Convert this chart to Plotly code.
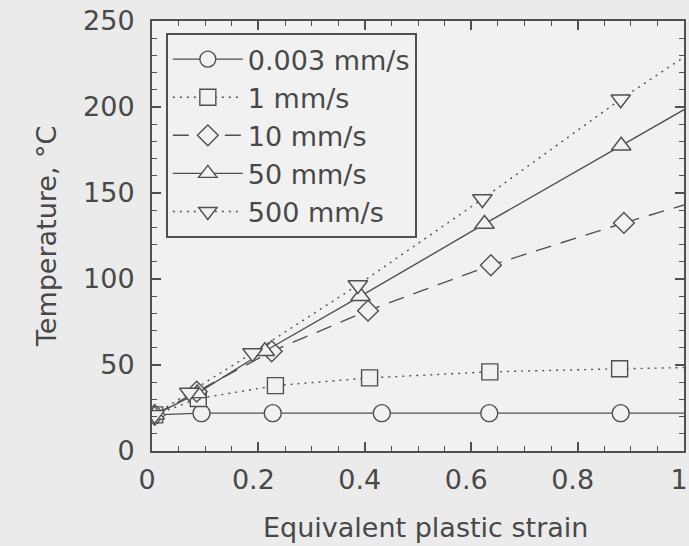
import plotly.graph_objects as go

# ---- data ----
labels = ["0.003 mm/s", "1 mm/s", "10 mm/s", "50 mm/s", "500 mm/s"]

x_0003 = [0.005, 0.093, 0.227, 0.432, 0.634, 0.881]
y_0003 = [21, 22, 22, 22, 22, 22]
x_1 = [0.005, 0.087, 0.232, 0.409, 0.635, 0.879]
y_1 = [21, 30.5, 38, 42.5, 46, 47.8]
x_10 = [0.005, 0.084, 0.225, 0.406, 0.637, 0.887]
y_10 = [21, 34.5, 58, 81.6, 108, 132.6]
x_50 = [0.005, 0.085, 0.212, 0.392, 0.625, 0.882]
y_50 = [21, 33.5, 58, 90, 132, 177.5]
x_500 = [0.005, 0.07, 0.189, 0.387, 0.621, 0.881]
y_500 = [21, 34, 57, 96.5, 146.5, 204.5]

# line continuation to the right frame (value at strain = 1)
end_x = [1.0, 1.0, 1.0, 1.0, 1.0]
end_y = [22, 48.5, 143, 198.5, 229]

x_ticks = [0, 0.2, 0.4, 0.6, 0.8, 1]
x_ticklabels = ["0", "0.2", "0.4", "0.6", "0.8", "1"]
y_ticks = [0, 50, 100, 150, 200, 250]
x_title = "Equivalent plastic strain"
y_title = "Temperature, °C"

# ---- styles ----
INK = "#505050"
TXT = "#484848"
PAPER = "#ebebeb"
PLOT = "#f1f1f1"
FONT = "DejaVu Sans"

series = [
    (x_0003, y_0003, "circle", "solid", 17),
    (x_1, y_1, "square", "2px,5px", 16),
    (x_10, y_10, "diamond", "16px,10px", 16),
    (x_50, y_50, "triangle-up", "solid", 17),
    (x_500, y_500, "triangle-down", "2px,5px", 17),
]

fig = go.Figure()
for i, (xs, ys, sym, dash, msize) in enumerate(series):
    # extension of the line to the frame (no markers)
    fig.add_trace(go.Scatter(
        x=[xs[-1], end_x[i]], y=[ys[-1], end_y[i]],
        mode="lines", line=dict(color=INK, width=1.4, dash=dash),
        showlegend=False, hoverinfo="skip", cliponaxis=True,
    ))
for i, (xs, ys, sym, dash, msize) in enumerate(series):
    fig.add_trace(go.Scatter(
        x=xs, y=ys, name=labels[i], mode="lines+markers",
        line=dict(color=INK, width=1.4, dash=dash),
        marker=dict(symbol=sym, size=msize, color=PLOT,
                    line=dict(color=INK, width=1.4)),
        cliponaxis=True,
    ))

axis_common = dict(
    showgrid=False, zeroline=False, showline=True, linecolor=INK, linewidth=2,
    mirror="ticks", ticks="inside", tickcolor=INK, tickwidth=1.5,
    tickfont=dict(family=FONT, size=27, color=TXT),
    ticklabeloverflow="allow", automargin=False,
)

fig.update_xaxes(
    range=[0, 1], tickvals=x_ticks, ticktext=x_ticklabels, ticklen=9,
    minor=dict(dtick=0.05, ticks="inside", ticklen=5, tickcolor=INK, tickwidth=1.3),
    ticklabelstandoff=4, ticklabelshift=-5,
    **axis_common,
)
fig.update_yaxes(
    range=[0, 250], tickvals=y_ticks, ticklen=9,
    minor=dict(dtick=10, ticks="inside", ticklen=5, tickcolor=INK, tickwidth=1.3),
    ticklabelstandoff=10,
    **axis_common,
)

fig.add_annotation(
    text=x_title, xref="paper", yref="paper", x=0.515, y=-0.177,
    xanchor="center", yanchor="middle", showarrow=False,
    font=dict(family=FONT, size=27, color=TXT),
)
fig.add_annotation(
    text=y_title, xref="paper", yref="paper", x=-0.199, y=0.5, textangle=-90,
    xanchor="center", yanchor="middle", showarrow=False,
    font=dict(family=FONT, size=27, color=TXT),
)

fig.update_layout(
    width=689, height=546,
    margin=dict(l=152, r=5, t=21, b=95),
    paper_bgcolor=PAPER, plot_bgcolor=PLOT,
    font=dict(family=FONT, color=TXT),
    legend=dict(
        x=0.026, y=0.972, xanchor="left", yanchor="top",
        bgcolor=PLOT, bordercolor=INK, borderwidth=2,
        font=dict(family=FONT, size=27, color=TXT),
        itemwidth=70, tracegroupgap=0,
    ),
    showlegend=True,
)

fig.write_html("out.html")
